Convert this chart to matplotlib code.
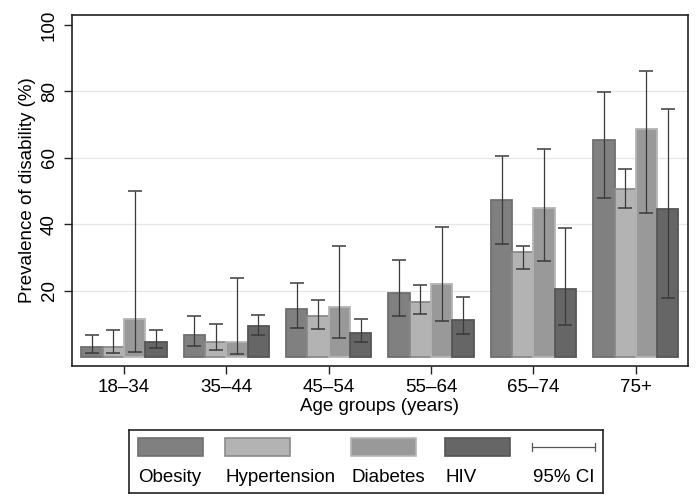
import matplotlib
matplotlib.use("Agg")
import matplotlib.pyplot as plt
from matplotlib.patches import Rectangle
import numpy as np

plt.rcParams['font.family'] = ['Liberation Sans', 'DejaVu Sans']

age_groups = ["18\u201334", "35\u201344", "45\u201354", "55\u201364", "65\u201374", "75+"]
series = ["Obesity", "Hypertension", "Diabetes", "HIV"]

obesity = [3.1, 6.7, 14.5, 19.4, 47.3, 65.5]
obesity_lo = [1.3, 3.5, 8.9, 12.4, 34.0, 47.9]
obesity_hi = [6.7, 12.4, 22.3, 29.3, 60.7, 79.7]

hypertension = [3.1, 4.5, 12.3, 16.8, 31.6, 50.7]
hypertension_lo = [1.3, 2.2, 8.5, 13.1, 26.5, 44.9]
hypertension_hi = [8.2, 10.1, 17.2, 21.7, 33.4, 56.6]

diabetes = [11.5, 4.5, 15.2, 22.1, 45.0, 68.7]
diabetes_lo = [1.7, 1.0, 5.9, 11.0, 28.9, 43.4]
diabetes_hi = [49.9, 23.8, 33.4, 39.3, 62.6, 86.1]

hiv = [4.75, 9.3, 7.4, 11.2, 20.7, 44.7]
hiv_lo = [2.9, 6.7, 4.7, 6.9, 9.8, 17.8]
hiv_hi = [8.2, 12.7, 11.5, 18.1, 39.0, 74.6]

values = [obesity, hypertension, diabetes, hiv]
lows = [obesity_lo, hypertension_lo, diabetes_lo, hiv_lo]
highs = [obesity_hi, hypertension_hi, diabetes_hi, hiv_hi]

face_colors = ["#808080", "#b3b3b3", "#999999", "#666666"]
edge_colors = ["#6f6f6f", "#8a8a8a", "#b5b5b5", "#555555"]
yticks = [20, 40, 60, 80, 100]

W, H = 699, 503
fig = plt.figure(figsize=(W / 100, H / 100), dpi=100)
ax = fig.add_axes([72 / W, 1 - 366 / H, (688 - 72) / W, (366 - 15) / H])

x = np.arange(len(age_groups))
bw = 0.208
for i, (vals, lo, hi) in enumerate(zip(values, lows, highs)):
    pos = x + (i - 1.5) * bw
    ax.bar(pos, vals, width=bw, color=face_colors[i], edgecolor=edge_colors[i],
           linewidth=1.3, zorder=2)
    vals_a = np.array(vals)
    err = np.vstack([vals_a - np.array(lo), np.array(hi) - vals_a])
    ax.errorbar(pos, vals_a, yerr=err, fmt='none', ecolor='#3a3a3a',
                elinewidth=0.9, capsize=5, capthick=1.1, zorder=3)

ax.set_xlim(-0.508, 5.51)
ax.set_ylim(-2.6, 103)
ax.set_yticks(yticks)
ax.set_yticklabels([str(t) for t in yticks], rotation=90, va='center', fontsize=13.5)
ax.set_xticks(x)
ax.set_xticklabels(age_groups, fontsize=13.5)
ax.tick_params(axis='both', direction='out', length=6, width=1, color='#222222')
ax.tick_params(axis='y', pad=4)
ax.tick_params(axis='x', pad=3)
ax.yaxis.grid(True, color='#e6e6e6', linewidth=0.9, zorder=0)
ax.get_ygridlines()[-1].set_visible(False)
ax.set_axisbelow(True)
for s in ax.spines.values():
    s.set_linewidth(1.2)
    s.set_color('#222222')
ax.set_ylabel("Prevalence of disability (%)", fontsize=13.5, labelpad=4)
ax.set_xlabel("Age groups (years)", fontsize=13.5, labelpad=2)

# legend box drawn in pixel coordinates
lax = fig.add_axes([129 / W, 1 - 493 / H, (603 - 129) / W, (493 - 430) / H])
lax.set_xlim(129, 603)
lax.set_ylim(493, 430)
lax.set_xticks([])
lax.set_yticks([])
for s in lax.spines.values():
    s.set_linewidth(1.2)
    s.set_color('#222222')
patch_x = [138, 225, 351, 445]
text_x = [138, 225, 351, 445]
for i, name in enumerate(series):
    lax.add_patch(Rectangle((patch_x[i], 438), 65, 18, facecolor=face_colors[i],
                            edgecolor=edge_colors[i], linewidth=1.2))
    lax.text(text_x[i], 478, name, fontsize=13.5, va='center', ha='left')
lax.plot([532, 595], [447, 447], color='#555555', linewidth=0.9)
lax.plot([532, 532], [443, 451], color='#555555', linewidth=0.9)
lax.plot([595, 595], [443, 451], color='#555555', linewidth=0.9)
lax.text(533, 478, "95% CI", fontsize=13.5, va='center', ha='left')

fig.savefig("out.png", dpi=100)
